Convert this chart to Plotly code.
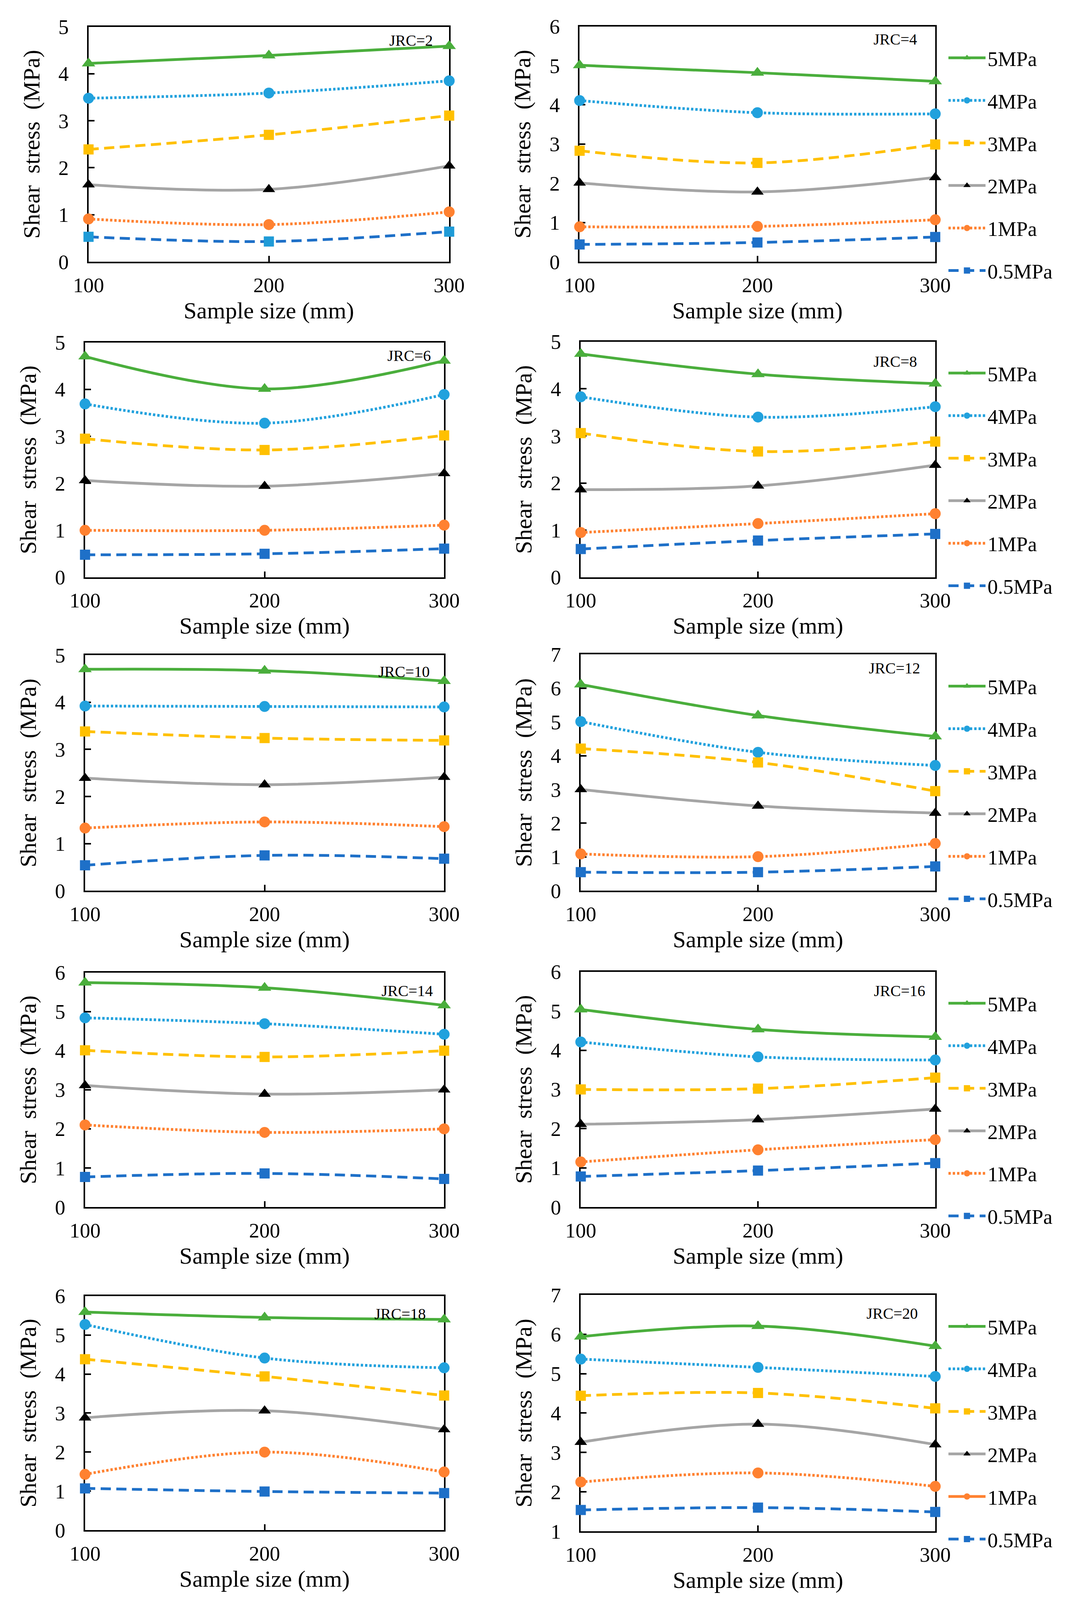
import plotly.graph_objects as go

# ---------------- data ----------------
sizes = [100, 200, 300]
normal_stress = ["5MPa", "4MPa", "3MPa", "2MPa", "1MPa", "0.5MPa"]
jrc_labels = ["JRC=2", "JRC=4", "JRC=6", "JRC=8", "JRC=10",
              "JRC=12", "JRC=14", "JRC=16", "JRC=18", "JRC=20"]

# shear stress (MPa); rows in order 5, 4, 3, 2, 1, 0.5 MPa normal stress
jrc2 = [[4.22, 4.39, 4.59], [3.48, 3.59, 3.85], [2.39, 2.70, 3.11],
        [1.64, 1.54, 2.04], [0.91, 0.79, 1.06], [0.53, 0.43, 0.64]]
jrc4 = [[5.01, 4.82, 4.60], [4.11, 3.80, 3.77], [2.83, 2.52, 2.99],
        [2.01, 1.78, 2.15], [0.89, 0.90, 1.07], [0.44, 0.49, 0.63]]
jrc6 = [[4.70, 4.01, 4.61], [3.69, 3.28, 3.89], [2.95, 2.71, 3.02],
        [2.06, 1.94, 2.21], [1.00, 1.00, 1.11], [0.48, 0.50, 0.61]]
jrc8 = [[4.74, 4.31, 4.11], [3.83, 3.40, 3.62], [3.06, 2.67, 2.88],
        [1.86, 1.94, 2.38], [0.95, 1.14, 1.35], [0.60, 0.78, 0.92]]
jrc10 = [[4.70, 4.67, 4.45], [3.92, 3.91, 3.90], [3.38, 3.24, 3.19],
         [2.39, 2.25, 2.41], [1.33, 1.46, 1.36], [0.54, 0.75, 0.68]]
jrc12 = [[6.11, 5.19, 4.57], [5.01, 4.10, 3.71], [4.21, 3.80, 2.95],
         [3.00, 2.51, 2.30], [1.09, 1.01, 1.40], [0.55, 0.55, 0.72]]
jrc14 = [[5.74, 5.61, 5.16], [4.84, 4.69, 4.42], [4.01, 3.84, 4.00],
         [3.11, 2.89, 3.00], [2.10, 1.91, 2.00], [0.77, 0.86, 0.72]]
jrc16 = [[5.04, 4.53, 4.34], [4.21, 3.83, 3.75], [3.00, 3.02, 3.30],
         [2.11, 2.23, 2.50], [1.15, 1.46, 1.72], [0.78, 0.93, 1.12]]
jrc18 = [[5.59, 5.45, 5.40], [5.27, 4.41, 4.16], [4.38, 3.94, 3.45],
         [2.88, 3.06, 2.58], [1.43, 2.00, 1.49], [1.07, 0.99, 0.95]]
jrc20 = [[5.94, 6.21, 5.70], [5.37, 5.16, 4.93], [4.44, 4.51, 4.12],
         [3.26, 3.72, 3.20], [2.25, 2.48, 2.14], [1.54, 1.60, 1.49]]

y_ranges = [[0, 5], [0, 6], [0, 5], [0, 5], [0, 5],
            [0, 7], [0, 6], [0, 6], [0, 6], [1, 7]]

panels = [jrc2, jrc4, jrc6, jrc8, jrc10, jrc12, jrc14, jrc16, jrc18, jrc20]

# ---------------- style ----------------
W, H = 2753, 4444          # reference canvas used to express positions
FONT = "Liberation Serif"

styles = [
    dict(lc="#4AAE3C", lw=7, dash="solid", sym="triangle-up", ms=30, mc="#4AAE3C"),
    dict(lc="#21A1DD", lw=7, dash="6px,5px", sym="circle", ms=28, mc="#21A1DD"),
    dict(lc="#FFC000", lw=7, dash="26px,14px", sym="square", ms=26, mc="#FFC000"),
    dict(lc="#A5A5A5", lw=7, dash="solid", sym="triangle-up", ms=28, mc="#000000"),
    dict(lc="#FF8130", lw=7, dash="6px,5px", sym="circle", ms=28, mc="#FF8130"),
    dict(lc="#1E70C8", lw=7, dash="26px,14px", sym="square", ms=26, mc="#1E70C8"),
]

# plot-area boxes in reference pixels: x0, x1, y0(top), y1(bottom)
panel_px = [
    (220, 1149, 66, 721), (1485, 2401, 65, 721),
    (211, 1136, 946, 1601), (1488, 2401, 944, 1601),
    (211, 1136, 1818, 2475), (1488, 2401, 1816, 2475),
    (211, 1136, 2703, 3357), (1488, 2401, 2701, 3357),
    (211, 1136, 3605, 4258), (1488, 2401, 3602, 4261),
]
label_pos = [(0.956, 0.942), (0.951, 0.945), (0.965, 0.944), (0.950, 0.915),
             (0.962, 0.930), (0.959, 0.941), (0.970, 0.922), (0.974, 0.919),
             (0.951, 0.923), (0.953, 0.921)]
legend_top_px = [108, 987, 1860, 2744, 3645]

fig = go.Figure()
layout = dict(
    autosize=True,
    margin=dict(l=0, r=0, t=0, b=0, autoexpand=False),
    paper_bgcolor="white", plot_bgcolor="white",
    font=dict(family=FONT, color="black", size=53),
    annotations=[],
)

for i, (data, yr) in enumerate(zip(panels, y_ranges)):
    n = "" if i == 0 else str(i + 1)
    xa, ya = "x" + n, "y" + n
    right = (i % 2 == 1)
    row = i // 2
    lid = "legend" + ("" if row == 0 else str(row + 1))
    for k, (name, vals) in enumerate(zip(normal_stress, data)):
        st = styles[k]
        mc = st["mc"]
        if i == 0 and k == 5:
            mc = "#1F9BD7"
        # in the JRC=20 legend the 1MPa entry is drawn with a solid line
        solid_legend = (i == 9 and k == 4)
        fig.add_trace(go.Scatter(
            x=sizes, y=vals, name=name, mode="lines+markers",
            xaxis=xa, yaxis=ya, cliponaxis=False,
            line=dict(color=st["lc"], width=st["lw"], dash=st["dash"],
                      shape="spline", smoothing=1.0),
            marker=dict(symbol=st["sym"], size=st["ms"], color=mc,
                        line=dict(width=0)),
            showlegend=right and not solid_legend, legend=lid,
            legendgroup=f"g{i}_{k}",
        ))
        if solid_legend:
            fig.add_trace(go.Scatter(
                x=[None], y=[None], name=name, mode="lines+markers",
                xaxis=xa, yaxis=ya,
                line=dict(color=st["lc"], width=st["lw"], dash="solid"),
                marker=dict(symbol=st["sym"], size=st["ms"], color=mc),
                showlegend=True, legend=lid, legendgroup=f"g{i}_{k}",
                hoverinfo="skip",
            ))

    x0, x1, y0, y1 = panel_px[i]
    axis_common = dict(
        showline=True, linewidth=4, linecolor="black", mirror=True,
        ticks="inside", ticklen=15, tickwidth=4, tickcolor="black",
        showgrid=False, zeroline=False, layer="below traces",
        automargin=False,
        tickfont=dict(family=FONT, size=53, color="black"),
    )
    layout["xaxis" + n] = dict(
        domain=[x0 / W, x1 / W], anchor=ya, range=[100, 300],
        tickvals=sizes, ticklabelstandoff=10,
        title=dict(text="Sample size (mm)", standoff=16,
                   font=dict(family=FONT, size=60, color="black")),
        **axis_common,
    )
    layout["yaxis" + n] = dict(
        domain=[1 - y1 / H, 1 - y0 / H], anchor=xa, range=yr, dtick=1,
        ticklabelstandoff=36,
        title=dict(text="Shear  stress  (MPa)", standoff=30,
                   font=dict(family=FONT, size=60, color="black")),
        **axis_common,
    )
    lx, ly = label_pos[i]
    layout["annotations"].append(dict(
        text=jrc_labels[i], xref=xa + " domain", yref=ya + " domain",
        x=lx, y=ly, xanchor="right", yanchor="middle", showarrow=False,
        font=dict(family=FONT, size=40, color="black"),
    ))

for r in range(5):
    lid = "legend" + ("" if r == 0 else str(r + 1))
    layout[lid] = dict(
        x=2430 / W, xanchor="left", y=1 - legend_top_px[r] / H, yanchor="top",
        font=dict(family=FONT, size=53, color="black"),
        itemwidth=95, tracegroupgap=37, traceorder="grouped",
        bgcolor="rgba(0,0,0,0)", borderwidth=0,
    )

fig.update_layout(**layout)
# fill the browser window exactly (body keeps its default 8px margin)
fig.write_html("out.html",
               default_width="calc(100vw - 16px)",
               default_height="calc(100vh - 16px)")
